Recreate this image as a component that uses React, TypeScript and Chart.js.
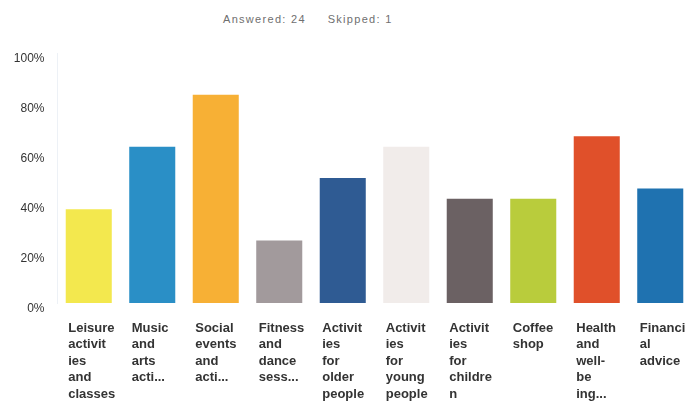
import React, { useEffect, useRef } from "react";
import { Chart, registerables } from "chart.js";

Chart.register(...registerables);

const categories: string[][] = [
  ["Leisure", "activit", "ies", "and", "classes"],
  ["Music", "and", "arts", "acti..."],
  ["Social", "events", "and", "acti..."],
  ["Fitness", "and", "dance", "sess..."],
  ["Activit", "ies", "for", "older", "people"],
  ["Activit", "ies", "for", "young", "people"],
  ["Activit", "ies", "for", "childre", "n"],
  ["Coffee", "shop"],
  ["Health", "and", "well-", "be", "ing..."],
  ["Financi", "al", "advice"],
];

const values: number[] = [37.5, 62.5, 83.33, 25, 50, 62.5, 41.67, 41.67, 66.67, 45.83];

const barColors: string[] = [
  "#f3e84e",
  "#2a8fc6",
  "#f7b035",
  "#a29a9c",
  "#2f5b93",
  "#f1ecea",
  "#6b6163",
  "#b9cc3c",
  "#e0502a",
  "#1f72b0",
];

const yTickValues: number[] = [0, 20, 40, 60, 80, 100];

const titleText = "Answered: 24     Skipped: 1";

const FONT = '"Liberation Sans", Arial, Helvetica, sans-serif';

export default function App() {
  const canvasRef = useRef<HTMLCanvasElement | null>(null);

  useEffect(() => {
    if (!canvasRef.current) return;
    const chart = new Chart(canvasRef.current, {
      type: "bar",
      data: {
        labels: categories,
        datasets: [
          {
            data: values,
            backgroundColor: barColors,
            borderWidth: 0,
            categoryPercentage: 1,
            barPercentage: 0.725,
          },
        ],
      },
      options: {
        responsive: false,
        animation: false,
        layout: { padding: { left: 0, right: 8, top: 53, bottom: 0 } },
        plugins: {
          legend: { display: false },
          title: { display: false },
          tooltip: { enabled: false },
        },
        scales: {
          x: {
            grid: { display: false, drawTicks: false },
            border: { display: false },
            afterFit: (scale: any) => {
              scale.height = 99;
              scale.paddingLeft = 0;
              scale.paddingRight = 0;
            },
            ticks: {
              autoSkip: false,
              maxRotation: 0,
              minRotation: 0,
              align: "start",
              labelOffset: -20.5,
              padding: 17,
              color: "#333333",
              font: { family: FONT, size: 13, weight: "bold", lineHeight: 1.265 },
            },
          },
          y: {
            min: yTickValues[0],
            max: yTickValues[yTickValues.length - 1],
            grid: { display: false, drawTicks: false },
            border: { display: true, color: "#edf1f6", width: 1 },
            afterFit: (scale: any) => {
              scale.width = 57;
            },
            afterBuildTicks: (scale: any) => {
              scale.ticks = yTickValues.map((v) => ({ value: v }));
            },
            ticks: {
              padding: 12.5,
              labelOffset: 6,
              color: "#333333",
              font: { family: FONT, size: 12 },
              callback: (v: any) => v + "%",
            },
          },
        },
      },
    });
    return () => chart.destroy();
  }, []);

  return (
    <div
      style={{
        position: "fixed",
        left: 0,
        top: 0,
        width: 689,
        height: 402,
        overflow: "hidden",
        background: "#ffffff",
      }}
    >
      <div
        style={{
          position: "absolute",
          left: 223,
          top: 12,
          fontFamily: FONT,
          fontSize: 11,
          lineHeight: "14px",
          letterSpacing: "1.3px",
          color: "#6f6f6f",
          whiteSpace: "pre",
        }}
      >
        {titleText}
      </div>
      <canvas
        ref={canvasRef}
        width={700}
        height={402}
        style={{ position: "absolute", left: 0, top: 0, width: 700, height: 402 }}
      />
    </div>
  );
}
